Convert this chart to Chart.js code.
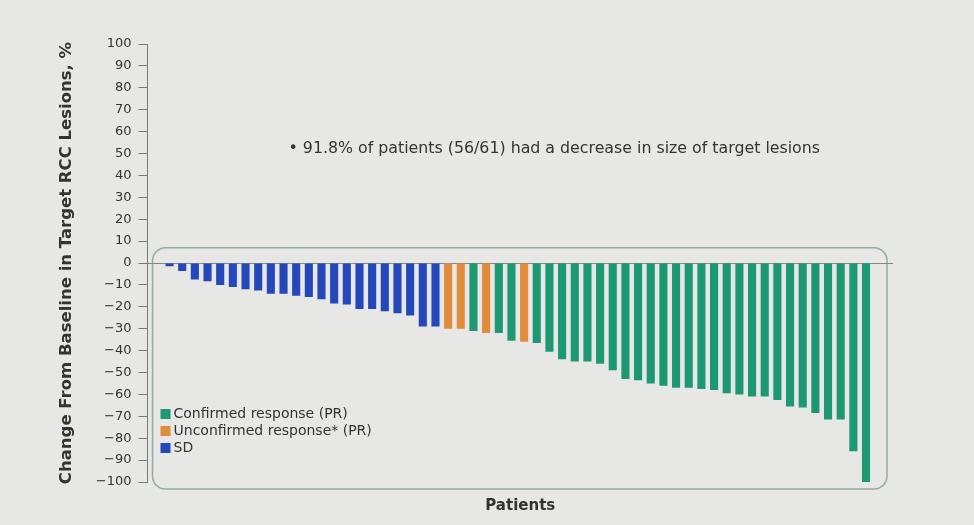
<!DOCTYPE html>
<html>
<head>
<meta charset="utf-8">
<script src="https://cdn.jsdelivr.net/npm/chart.js@4.4.1/dist/chart.umd.min.js"></script>
<style>
  html, body { margin: 0; padding: 0; background: #e7e7e5; }
  #wrap { width: 974px; height: 525px; }
</style>
</head>
<body>
<div id="wrap"><canvas id="waterfall" width="974" height="525"></canvas></div>
<script>
// best % change from baseline, one bar per patient (sorted)
const changeValues = [-1.5, -3.7, -7.5, -8.3, -10, -11, -12, -12.5, -14, -14,
    -15, -15.5, -16.5, -18.5, -19, -21, -21, -22, -23, -24,
    -29, -29, -30, -30, -31, -32, -32, -35.5, -36, -36.5,
    -40.5, -44, -45, -45, -46, -49, -53, -53.5, -55, -56,
    -57, -57, -57.5, -58, -59.5, -60, -61, -61, -62.5, -65.5,
    -66, -68.5, -71.5, -71.5, -86, -100];
// C = confirmed response (PR), U = unconfirmed response (PR), SD = stable disease
const responseTypes = ['SD', 'SD', 'SD', 'SD', 'SD', 'SD', 'SD', 'SD', 'SD', 'SD',
    'SD', 'SD', 'SD', 'SD', 'SD', 'SD', 'SD', 'SD', 'SD', 'SD',
    'SD', 'SD', 'U', 'U', 'C', 'U', 'C', 'C', 'U', 'C',
    'C', 'C', 'C', 'C', 'C', 'C', 'C', 'C', 'C', 'C',
    'C', 'C', 'C', 'C', 'C', 'C', 'C', 'C', 'C', 'C',
    'C', 'C', 'C', 'C', 'C', 'C'];
const legendLabels = ['Confirmed response (PR)', 'Unconfirmed response* (PR)', 'SD'];
const legendKeys = ['C', 'U', 'SD'];
const noteText = '• 91.8% of patients (56/61) had a decrease in size of target lesions';

const typeColors = { C: 'rgb(28, 152, 114)', U: 'rgb(224, 140, 58)', SD: 'rgb(36, 72, 186)' };
const textColor = '#333';
const fontFamily = '"DejaVu Sans", Verdana, sans-serif';

const framePlugin = {
    id: 'frame',
    beforeDatasetsDraw(chart){
        const {ctx, chartArea, scales} = chart;
        const left = chartArea.left + 5;
        const right = chartArea.right - 6;
        const top = scales.y.getPixelForValue(7);
        const bottom = chartArea.bottom + 7;
        ctx.save();
        ctx.strokeStyle = 'rgba(120, 150, 140, 0.75)';
        ctx.lineWidth = 1.5;
        ctx.beginPath();
        ctx.roundRect(left, top, right - left, bottom - top, 13);
        ctx.stroke();
        ctx.restore();
    },
    afterDatasetsDraw(chart){
        const {ctx, chartArea} = chart;
        ctx.save();
        ctx.font = '14px ' + fontFamily;
        ctx.textBaseline = 'middle';
        // legend rows in the lower left of the frame
        legendLabels.forEach((label, i) => {
            const y = chartArea.bottom - 68 + i * 17;
            ctx.fillStyle = typeColors[legendKeys[i]];
            ctx.fillRect(chartArea.left + 13, y - 5, 10, 10);
            ctx.fillStyle = textColor;
            ctx.fillText(label, chartArea.left + 26, y);
        });
        // note above the bars
        ctx.font = '15.8px ' + fontFamily;
        ctx.fillText(noteText, chartArea.left + 141, 149);
        ctx.restore();
    }
};

new Chart(document.getElementById('waterfall'), {
    type: 'bar',
    data: {
        datasets: [{
            data: changeValues.map((v, i) => ({ x: i + 1, y: v })),
            backgroundColor: responseTypes.map(t => typeColors[t]),
            categoryPercentage: 1,
            barPercentage: 0.64
        }]
    },
    options: {
        responsive: false,
        animation: false,
        layout: {
            padding: { left: 57, top: 44, right: 81, bottom: 10 }
        },
        scales: {
            x: {
                type: 'linear',
                offset: false,
                min: -0.74,
                max: 58.13,
                grid: { display: false },
                border: { display: false },
                ticks: { display: false },
                title: {
                    display: true,
                    text: 'Patients',
                    color: textColor,
                    font: { family: fontFamily, size: 15, weight: 'bold' },
                    padding: { top: 7, bottom: 0 }
                }
            },
            y: {
                min: -100,
                max: 100,
                ticks: {
                    stepSize: 10,
                    color: textColor,
                    padding: 7,
                    font: { family: fontFamily, size: 13 },
                    callback: v => v < 0 ? '\u2212' + Math.abs(v) : String(v)
                },
                grid: {
                    color: c => c.tick && c.tick.value === 0 ? 'rgba(110,110,110,0.8)' : 'rgba(0,0,0,0)',
                    tickColor: '#777',
                    tickLength: 9
                },
                border: { display: true, color: '#777' },
                title: {
                    display: true,
                    text: 'Change From Baseline in Target RCC Lesions, %',
                    color: textColor,
                    font: { family: fontFamily, size: 16.5, weight: 'bold' },
                    padding: { top: 0, bottom: 12 }
                }
            }
        },
        plugins: {
            legend: { display: false },
            tooltip: { enabled: false }
        }
    },
    plugins: [framePlugin]
});
</script>
</body>
</html>
